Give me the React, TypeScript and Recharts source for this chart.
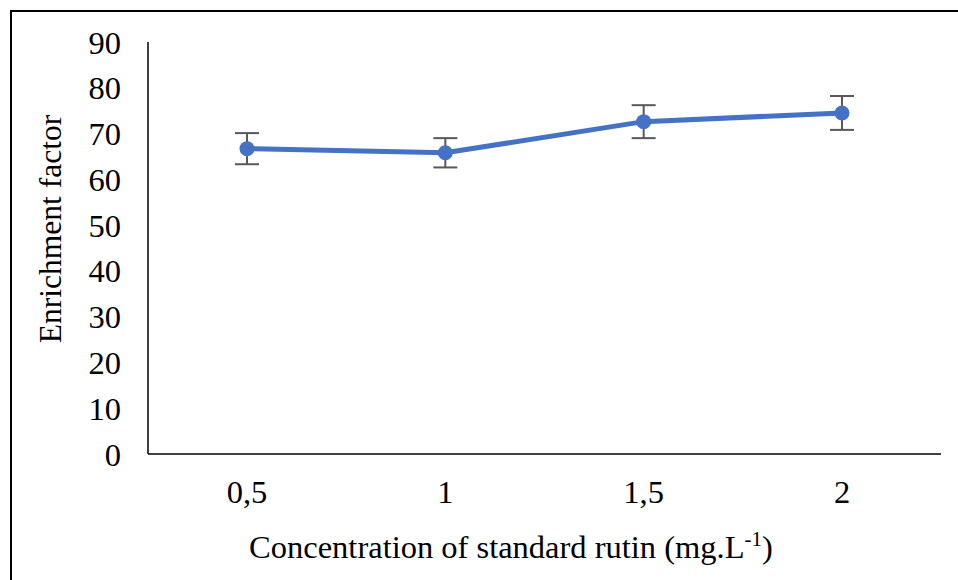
import { LineChart, Line, XAxis, YAxis, ErrorBar, Label } from "recharts";

// Enrichment factor vs. rutin standard concentration
const concentrations = ["0,5", "1", "1,5", "2"];
const enrichmentFactor = [66.7, 65.8, 72.6, 74.5];
const stdDev = [3.4, 3.2, 3.6, 3.7];
const yTicks = [0, 10, 20, 30, 40, 50, 60, 70, 80, 90];

const data = concentrations.map((c, i) => ({
  conc: c,
  ef: enrichmentFactor[i],
  sd: stdDev[i],
}));

const FONT = "'Liberation Serif', 'Times New Roman', serif";

function YTitle() {
  return (
    <text
      x={61}
      y={229}
      transform="rotate(-90, 61, 229)"
      textAnchor="middle"
      fontFamily={FONT}
      fontSize={31.5}
      fill="#000"
    >
      Enrichment factor
    </text>
  );
}

function XTitle() {
  return (
    <text x={511} y={558} textAnchor="middle" fontFamily={FONT} fontSize={32.5} fill="#000">
      Concentration of standard rutin (mg.L
      <tspan dy={-12} fontSize={21}>-1</tspan>
      <tspan dy={12}>)</tspan>
    </text>
  );
}

export default function App() {
  return (
    <div
      style={{
        position: "absolute",
        left: 0,
        top: 0,
        width: 958,
        height: 580,
        background: "#fff",
        overflow: "hidden",
      }}
    >
      {/* outer frame, only top and left edges fall inside the view */}
      <div
        style={{
          position: "absolute",
          left: 10,
          top: 10,
          width: 960,
          height: 580,
          borderLeft: "2px solid #000",
          borderTop: "2px solid #000",
        }}
      />
      <LineChart
        width={958}
        height={580}
        data={data}
        margin={{ top: 42, right: 17, bottom: 46, left: 48 }}
        style={{ position: "absolute", left: 0, top: 0 }}
      >
        <XAxis
          dataKey="conc"
          height={80}
          padding={{ left: 99, right: 99 }}
          axisLine={{ stroke: "#000", strokeWidth: 1.5 }}
          tickLine={false}
          tickSize={0}
          tickMargin={26}
          tick={{ fontFamily: FONT, fontSize: 32.5, fill: "#000" }}
        >
          <Label content={<XTitle />} />
        </XAxis>
        <YAxis
          width={100}
          domain={[0, 90]}
          ticks={yTicks}
          interval={0}
          axisLine={{ stroke: "#000", strokeWidth: 1.5 }}
          tickLine={false}
          tickSize={0}
          tickMargin={27}
          tick={{ fontFamily: FONT, fontSize: 32.5, fill: "#000" }}
        >
          <Label content={<YTitle />} />
        </YAxis>
        <Line
          dataKey="ef"
          stroke="#4472C4"
          strokeWidth={5}
          dot={{ r: 7.5, fill: "#4472C4", stroke: "#4472C4", strokeWidth: 0 }}
          activeDot={false}
          isAnimationActive={false}
        >
          <ErrorBar dataKey="sd" width={12} stroke="#595959" strokeWidth={2} />
        </Line>
      </LineChart>
    </div>
  );
}
